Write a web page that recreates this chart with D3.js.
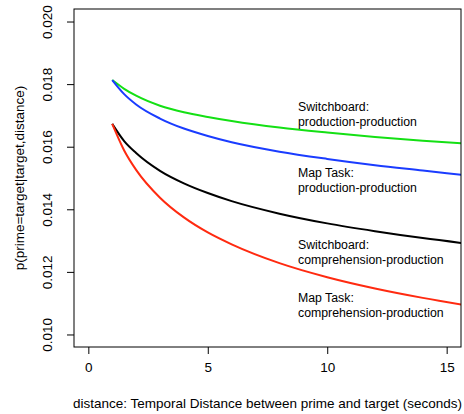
<!DOCTYPE html>
<html>
<head>
<meta charset="utf-8">
<script src="https://cdn.jsdelivr.net/npm/d3@7"></script>
<style>
    body { margin: 0; background: #fff; }
    text { font-family: "Liberation Sans", Arial, Helvetica, sans-serif; fill: #000; }
</style>
</head>
<body>
<div id="chart"></div>
<script>
// data
const distance = [1, 1.5, 2, 3, 4, 5, 6, 8, 10, 12, 14, 16];
const sbProdProd = [0.01813, 0.01785, 0.01763, 0.01731, 0.01710, 0.01695, 0.01682, 0.01661, 0.01645, 0.01631, 0.01619, 0.01609];
const mtProdProd = [0.01813, 0.01768, 0.01735, 0.01690, 0.01658, 0.01634, 0.01614, 0.01584, 0.01561, 0.01541, 0.01524, 0.01507];
const sbCompProd = [0.01673, 0.01618, 0.01580, 0.01523, 0.01483, 0.01452, 0.01426, 0.01386, 0.01355, 0.01330, 0.01308, 0.01289];
const mtCompProd = [0.01673, 0.01588, 0.01526, 0.01437, 0.01374, 0.01326, 0.01288, 0.01228, 0.01183, 0.01147, 0.01117, 0.01091];

const xTicks = [0, 5, 10, 15];
const yTicks = [0.010, 0.012, 0.014, 0.016, 0.018, 0.020];

const seriesNames = [
    ["Switchboard:", "production-production"],
    ["Map Task:", "production-production"],
    ["Switchboard:", "comprehension-production"],
    ["Map Task:", "comprehension-production"]
];
const seriesColors = ["#14e014", "#1a3cff", "#000000", "#ff2a10"];

// svg size
const width = 464;
const height = 414;
const margin = {top: 9, right: 3, bottom: 67, left: 74};
const chartWidth = width - margin.left - margin.right;
const chartHeight = height - margin.top - margin.bottom;

const svg = d3.select("#chart").append("svg")
    .attr("width", width)
    .attr("height", height);

const chartGroup = svg.append("g")
    .attr("transform", `translate(${margin.left}, ${margin.top})`);

// R style 4% padding around xlim = c(0,15), ylim = c(0.01,0.02)
const x = d3.scaleLinear().domain([-0.6, 15.6]).range([0, chartWidth]);
const y = d3.scaleLinear().domain([0.0096, 0.0204]).range([chartHeight, 0]);

chartGroup.append("clipPath").attr("id", "clip")
    .append("rect")
    .attr("width", chartWidth)
    .attr("height", chartHeight);

// lines
const line = d3.line()
    .x(d => x(d[0]))
    .y(d => y(d[1]))
    .curve(d3.curveMonotoneX);

const series = [sbProdProd, mtProdProd, sbCompProd, mtCompProd];
series.forEach((vals, i) => {
    chartGroup.append("path")
        .datum(distance.map((d, j) => [d, vals[j]]))
        .attr("clip-path", "url(#clip)")
        .attr("d", line)
        .attr("fill", "none")
        .attr("stroke", seriesColors[i])
        .attr("stroke-width", 2);
});

// annotations
const labelY = [110.5, 176.5, 248.5, 301.5];
seriesNames.forEach((lines, i) => {
    const t = svg.append("text")
        .attr("x", 298)
        .attr("y", labelY[i])
        .style("font-size", "12.3px");
    lines.forEach((s, k) => {
        t.append("tspan")
            .attr("x", 298)
            .attr("dy", k == 0 ? 0 : 15.5)
            .text(s);
    });
});

// box
chartGroup.append("rect")
    .attr("width", chartWidth)
    .attr("height", chartHeight)
    .attr("fill", "none")
    .attr("stroke", "#000")
    .attr("stroke-width", 1);

// axes
const bottomAxis = d3.axisBottom(x).tickValues(xTicks).tickSize(7).tickPadding(8).tickFormat(d3.format("d"));
const xAxis = chartGroup.append("g")
    .attr("transform", `translate(0, ${chartHeight})`)
    .call(bottomAxis);
xAxis.select(".domain").remove();

const leftAxis = d3.axisLeft(y).tickValues(yTicks).tickSize(7).tickFormat(d3.format(".3f"));
const yAxis = chartGroup.append("g").call(leftAxis);
yAxis.select(".domain").remove();
yAxis.selectAll(".tick text")
    .attr("x", null).attr("dy", null)
    .attr("text-anchor", "middle")
    .attr("transform", "translate(-27,0) rotate(-90)")
    .attr("dy", "0.35em");

svg.selectAll(".tick text").style("font-size", "13.5px").style("font-family", "'Liberation Sans', Arial, sans-serif");
svg.selectAll(".tick line").attr("stroke", "#000");

// axis labels
svg.append("text")
    .attr("x", margin.left + chartWidth / 2)
    .attr("y", 408)
    .attr("text-anchor", "middle")
    .style("font-size", "13.5px")
    .text("distance: Temporal Distance between prime and target (seconds)");

svg.append("text")
    .attr("transform", `translate(24, ${margin.top + chartHeight / 2}) rotate(-90)`)
    .attr("text-anchor", "middle")
    .style("font-size", "13.5px")
    .text("p(prime=target|target,distance)");
</script>
</body>
</html>
